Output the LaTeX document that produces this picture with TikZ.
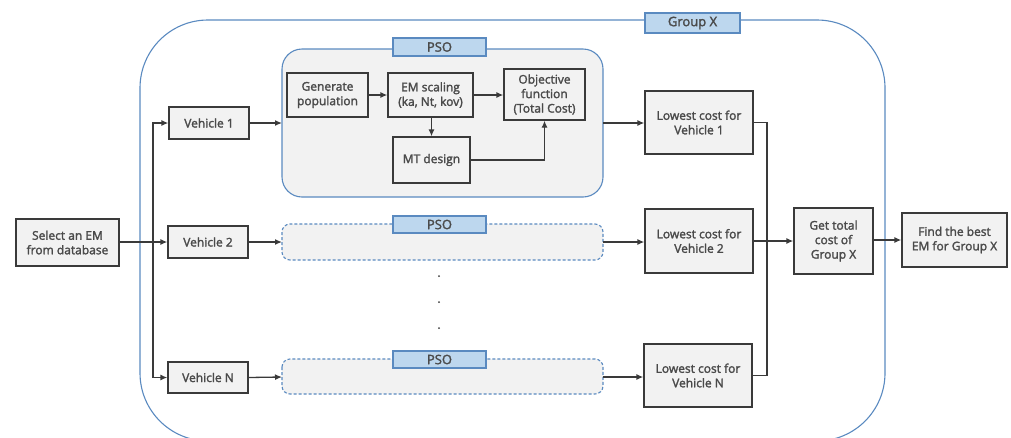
\documentclass[tikz,border=0pt]{standalone}
\usepackage{fontspec}
\setmainfont{Open Sans}
\newfontfamily\semib{Open Sans}[FakeBold=2]
\usetikzlibrary{arrows.meta}
\definecolor{boxfill}{HTML}{F2F2F2}
\definecolor{boxline}{HTML}{3A3A3A}
\definecolor{txt}{HTML}{4A4A4A}
\definecolor{blueline}{HTML}{5A8AC0}
\definecolor{labfill}{HTML}{BDD7EE}
\tikzset{
  px/.style={x=1pt,y=-1pt},
  stepbox/.style={draw=boxline,fill=boxfill,line width=1.3pt,text=txt,align=center,inner sep=0pt,font=\semib\fontsize{12}{14.5}\selectfont},
  psobox/.style={draw=blueline,fill=boxfill,line width=1.1pt,rounded corners=20pt},
  psodash/.style={draw=blueline,fill=boxfill,line width=1.1pt,dashed,dash pattern=on 3pt off 2pt,rounded corners=8pt},
  labbox/.style={draw=blueline,fill=labfill,line width=1.2pt,text=txt,inner sep=0pt,font=\semib\fontsize{13}{14}\selectfont},
  conn/.style={draw=boxline,line width=1.3pt},
  arr/.style={conn,-{Latex[length=7pt,width=6pt]}}
}
\begin{document}
\begin{tikzpicture}[px]
\useasboundingbox (0,0) rectangle (1011,437);
% outer group
\begin{scope}
\clip (0,0) rectangle (1011,437);
\draw[blueline,line width=1.1pt,rounded corners=68pt] (140,20) rectangle (885,441);
\end{scope}
\node[labbox,minimum width=95pt,minimum height=20pt] (glab) at (692.5,23) {Group X};

% PSO containers
\draw[psobox] (282,49) rectangle (603,197);
\node[labbox,minimum width=93pt,minimum height=18pt] (plab1) at (439.5,47) {PSO};
\coordinate (pso1w) at (282,123);
\coordinate (pso1e) at (603,123);

\draw[psodash] (282,224) rectangle (603,260);
\node[labbox,minimum width=93pt,minimum height=17pt] (plab2) at (439.5,224.5) {PSO};
\coordinate (pso2w) at (282,242);
\coordinate (pso2e) at (603,242);

\draw[psodash] (282,359) rectangle (603,394);
\node[labbox,minimum width=93pt,minimum height=17pt] (plabN) at (439.5,359.5) {PSO};
\coordinate (psoNw) at (282,377);
\coordinate (psoNe) at (603,377);

% dots
\fill[boxline] (439,276) circle (1pt);
\fill[boxline] (439,302) circle (1pt);
\fill[boxline] (439,328) circle (1pt);

% nodes
\node[stepbox,minimum width=103pt,minimum height=47pt] (sel) at (67.5,242.5) {Select an EM\\from database};
\node[stepbox,minimum width=80pt,minimum height=32pt] (v1) at (209,123) {Vehicle 1};
\node[stepbox,minimum width=80pt,minimum height=32pt] (v2) at (208,242) {Vehicle 2};
\node[stepbox,minimum width=80pt,minimum height=31pt] (vN) at (208,377.5) {Vehicle N};

\node[stepbox,minimum width=81pt,minimum height=44pt] (gen) at (327.5,95) {Generate\\population};
\node[stepbox,minimum width=85pt,minimum height=44pt] (em) at (430.5,95) {EM scaling\\(ka, Nt, kov)};
\node[stepbox,minimum width=81pt,minimum height=51pt] (obj) at (544.5,94.5) {Objective\\function\\(Total Cost)};
\node[stepbox,minimum width=77pt,minimum height=46pt] (mt) at (431.5,160) {MT design};

\node[stepbox,minimum width=108pt,minimum height=63pt] (lc1) at (699,122.5) {Lowest cost for\\Vehicle 1};
\node[stepbox,minimum width=108pt,minimum height=64pt] (lc2) at (699,241) {Lowest cost for\\Vehicle 2};
\node[stepbox,minimum width=108pt,minimum height=63pt] (lcN) at (698,375.5) {Lowest cost for\\Vehicle N};

\node[stepbox,minimum width=79pt,minimum height=66pt] (gt) at (833.5,241) {Get total\\cost of\\Group X};
\node[stepbox,minimum width=105pt,minimum height=54pt] (fb) at (954.5,240) {Find the best\\EM for Group X};

% connectors
\coordinate (j) at (153,242);
\draw[arr] (sel.east |- v2.west) -- (v2.west);
\draw[arr] (j) |- (v1.west);
\draw[arr] (j) |- (vN.west);

\draw[arr] (v1.east) -- (pso1w);
\draw[arr] (v2.east) -- (pso2w);
\draw[arr] (vN.east) -- (psoNw);

\draw[arr] (gen.east) -- (em.west |- gen.east);
\draw[arr] (em.east) -- (obj.west |- em.east);
\draw[arr] (em.south -| mt.north) -- (mt.north);
\draw[arr] (mt.east) -| (obj.south);

\draw[arr] (pso1e) -- (lc1.west |- pso1e);
\draw[arr] (pso2e) -- (lc2.west |- pso2e);
\draw[arr] (psoNe) -- (lcN.west |- psoNe);

\coordinate (k) at (767,241);
\draw[conn] (lc1.east) -| (k);
\draw[conn] (lcN.east) -| (k);
\draw[arr] (lc2.east) -- (gt.west);
\draw[arr] (gt.east |- fb.west) -- (fb.west);
\end{tikzpicture}
\end{document}
